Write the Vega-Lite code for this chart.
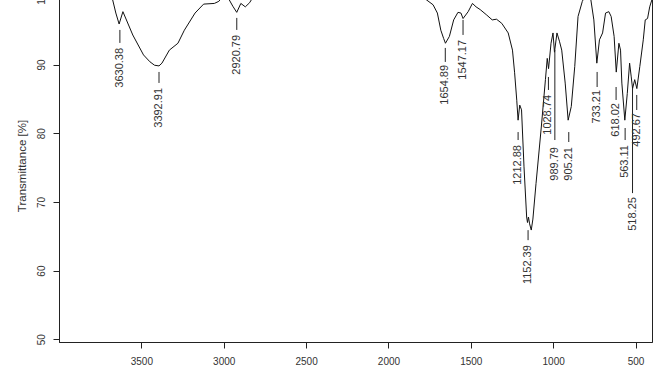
{
  "$schema": "https://vega.github.io/schema/vega-lite/v6.json",
  "width": 593,
  "height": 353,
  "autosize": {"type": "none"},
  "padding": {"left": 59, "top": -11, "right": 20, "bottom": 30},
  "background": "white",
  "config": {
    "view": {"stroke": "#222", "strokeWidth": 1},
    "font": "Liberation Sans",
    "axis": {"grid": false, "domainColor": "#222", "tickColor": "#222", "labelColor": "#333", "titleColor": "#333", "labelFontSize": 10, "titleFontWeight": "normal"}
  },
  "datasets": {
    "spectrum": [
      {"wavenumber": 4000, "transmittance": 101.0},
      {"wavenumber": 3850, "transmittance": 100.8},
      {"wavenumber": 3720, "transmittance": 100.3},
      {"wavenumber": 3690, "transmittance": 99.8},
      {"wavenumber": 3674, "transmittance": 99.4},
      {"wavenumber": 3655, "transmittance": 97.5},
      {"wavenumber": 3635, "transmittance": 95.9},
      {"wavenumber": 3612, "transmittance": 97.7},
      {"wavenumber": 3552, "transmittance": 94.3},
      {"wavenumber": 3487, "transmittance": 91.4},
      {"wavenumber": 3448, "transmittance": 90.4},
      {"wavenumber": 3420, "transmittance": 89.9},
      {"wavenumber": 3393, "transmittance": 89.8},
      {"wavenumber": 3375, "transmittance": 90.2},
      {"wavenumber": 3330, "transmittance": 92.1},
      {"wavenumber": 3278, "transmittance": 93.1},
      {"wavenumber": 3239, "transmittance": 95.0},
      {"wavenumber": 3174, "transmittance": 97.5},
      {"wavenumber": 3122, "transmittance": 98.8},
      {"wavenumber": 3057, "transmittance": 98.9},
      {"wavenumber": 3030, "transmittance": 99.2},
      {"wavenumber": 3010, "transmittance": 99.8},
      {"wavenumber": 2990, "transmittance": 100.1},
      {"wavenumber": 2966, "transmittance": 99.4},
      {"wavenumber": 2945, "transmittance": 98.5},
      {"wavenumber": 2921, "transmittance": 97.6},
      {"wavenumber": 2896, "transmittance": 98.9},
      {"wavenumber": 2869, "transmittance": 98.4},
      {"wavenumber": 2843, "transmittance": 99.0},
      {"wavenumber": 2820, "transmittance": 99.9},
      {"wavenumber": 2700, "transmittance": 100.6},
      {"wavenumber": 2400, "transmittance": 100.8},
      {"wavenumber": 2100, "transmittance": 100.8},
      {"wavenumber": 1900, "transmittance": 100.6},
      {"wavenumber": 1800, "transmittance": 100.0},
      {"wavenumber": 1768, "transmittance": 99.4},
      {"wavenumber": 1729, "transmittance": 98.7},
      {"wavenumber": 1703, "transmittance": 97.5},
      {"wavenumber": 1682, "transmittance": 95.0},
      {"wavenumber": 1665, "transmittance": 93.8},
      {"wavenumber": 1654, "transmittance": 93.1},
      {"wavenumber": 1630, "transmittance": 94.1},
      {"wavenumber": 1604, "transmittance": 96.5},
      {"wavenumber": 1578, "transmittance": 97.6},
      {"wavenumber": 1560, "transmittance": 97.5},
      {"wavenumber": 1547, "transmittance": 96.7},
      {"wavenumber": 1516, "transmittance": 97.7},
      {"wavenumber": 1490, "transmittance": 98.9},
      {"wavenumber": 1468, "transmittance": 98.4},
      {"wavenumber": 1443, "transmittance": 98.0},
      {"wavenumber": 1403, "transmittance": 97.2},
      {"wavenumber": 1370, "transmittance": 96.5},
      {"wavenumber": 1344, "transmittance": 96.6},
      {"wavenumber": 1312, "transmittance": 96.0},
      {"wavenumber": 1273, "transmittance": 94.6},
      {"wavenumber": 1247, "transmittance": 92.1},
      {"wavenumber": 1234, "transmittance": 88.8},
      {"wavenumber": 1221, "transmittance": 84.8},
      {"wavenumber": 1213, "transmittance": 81.9},
      {"wavenumber": 1203, "transmittance": 84.1},
      {"wavenumber": 1192, "transmittance": 83.4},
      {"wavenumber": 1177, "transmittance": 75.1},
      {"wavenumber": 1161, "transmittance": 67.8},
      {"wavenumber": 1156, "transmittance": 67.0},
      {"wavenumber": 1150, "transmittance": 67.8},
      {"wavenumber": 1143, "transmittance": 66.8},
      {"wavenumber": 1133, "transmittance": 65.9},
      {"wavenumber": 1123, "transmittance": 67.5},
      {"wavenumber": 1104, "transmittance": 72.7},
      {"wavenumber": 1072, "transmittance": 80.9},
      {"wavenumber": 1047, "transmittance": 87.8},
      {"wavenumber": 1036, "transmittance": 90.9},
      {"wavenumber": 1028, "transmittance": 89.4},
      {"wavenumber": 1013, "transmittance": 93.1},
      {"wavenumber": 1001, "transmittance": 94.6},
      {"wavenumber": 992, "transmittance": 91.8},
      {"wavenumber": 977, "transmittance": 94.6},
      {"wavenumber": 962, "transmittance": 93.4},
      {"wavenumber": 948, "transmittance": 92.1},
      {"wavenumber": 927, "transmittance": 87.3},
      {"wavenumber": 909, "transmittance": 81.9},
      {"wavenumber": 890, "transmittance": 83.9},
      {"wavenumber": 869, "transmittance": 89.7},
      {"wavenumber": 849, "transmittance": 97.0},
      {"wavenumber": 823, "transmittance": 99.2},
      {"wavenumber": 800, "transmittance": 100.3},
      {"wavenumber": 780, "transmittance": 100.2},
      {"wavenumber": 771, "transmittance": 99.4},
      {"wavenumber": 753, "transmittance": 96.5},
      {"wavenumber": 735, "transmittance": 90.2},
      {"wavenumber": 719, "transmittance": 93.6},
      {"wavenumber": 700, "transmittance": 94.6},
      {"wavenumber": 682, "transmittance": 97.5},
      {"wavenumber": 662, "transmittance": 97.7},
      {"wavenumber": 648, "transmittance": 97.0},
      {"wavenumber": 630, "transmittance": 94.1},
      {"wavenumber": 617, "transmittance": 88.9},
      {"wavenumber": 601, "transmittance": 93.1},
      {"wavenumber": 591, "transmittance": 92.1},
      {"wavenumber": 583, "transmittance": 87.3},
      {"wavenumber": 565, "transmittance": 81.9},
      {"wavenumber": 550, "transmittance": 85.8},
      {"wavenumber": 536, "transmittance": 90.2},
      {"wavenumber": 526, "transmittance": 88.2},
      {"wavenumber": 518, "transmittance": 86.5},
      {"wavenumber": 505, "transmittance": 87.8},
      {"wavenumber": 492, "transmittance": 86.5},
      {"wavenumber": 474, "transmittance": 89.7},
      {"wavenumber": 453, "transmittance": 93.6},
      {"wavenumber": 441, "transmittance": 96.5},
      {"wavenumber": 427, "transmittance": 96.7},
      {"wavenumber": 414, "transmittance": 98.4},
      {"wavenumber": 401, "transmittance": 99.4},
      {"wavenumber": 400, "transmittance": 99.5}
    ],
    "peaks": [
      {"wavenumber": 3630.38, "label": "3630.38", "tick_top": 95.04, "tick_bottom": 93.15, "label_y": 92.42},
      {"wavenumber": 3392.91, "label": "3392.91", "tick_top": 88.92, "tick_bottom": 87.32, "label_y": 86.59},
      {"wavenumber": 2920.79, "label": "2920.79", "tick_top": 96.79, "tick_bottom": 95.04, "label_y": 94.31},
      {"wavenumber": 1654.89, "label": "1654.89", "tick_top": 92.42, "tick_bottom": 90.38, "label_y": 89.94},
      {"wavenumber": 1547.17, "label": "1547.17", "tick_top": 96.5, "tick_bottom": 94.31, "label_y": 93.59},
      {"wavenumber": 1212.88, "label": "1212.88", "tick_top": 80.17, "tick_bottom": 79.01, "label_y": 78.28},
      {"wavenumber": 1152.39, "label": "1152.39", "tick_top": 65.89, "tick_bottom": 64.43, "label_y": 63.7},
      {"wavenumber": 1028.74, "label": "1028.74", "tick_top": 88.19, "tick_bottom": 86.3, "label_y": 85.57},
      {"wavenumber": 989.79, "label": "989.79", "tick_top": 92.13, "tick_bottom": 79.01, "label_y": 77.99},
      {"wavenumber": 905.21, "label": "905.21", "tick_top": 80.17, "tick_bottom": 78.72, "label_y": 77.99},
      {"wavenumber": 733.21, "label": "733.21", "tick_top": 88.92, "tick_bottom": 86.73, "label_y": 86.3},
      {"wavenumber": 618.02, "label": "618.02", "tick_top": 86.73, "tick_bottom": 84.84, "label_y": 84.4},
      {"wavenumber": 563.11, "label": "563.11", "tick_top": 80.76, "tick_bottom": 79.01, "label_y": 78.28},
      {"wavenumber": 518.25, "label": "518.25", "tick_top": 86.59, "tick_bottom": 71.28, "label_y": 70.7},
      {"wavenumber": 492.67, "label": "492.67", "tick_top": 85.57, "tick_bottom": 83.38, "label_y": 82.94}
    ]
  },
  "layer": [
    {
      "data": {"name": "spectrum"},
      "mark": {"type": "line", "color": "#111", "strokeWidth": 1, "clip": true},
      "encoding": {
        "x": {"field": "wavenumber", "type": "quantitative",
              "scale": {"domain": [400, 4000], "reverse": true, "nice": false, "zero": false},
              "axis": {"values": [3500, 3000, 2500, 2000, 1500, 1000, 500], "format": "d", "title": null, "tickSize": 6, "labelPadding": 8, "labelFlush": false}},
        "y": {"field": "transmittance", "type": "quantitative",
              "scale": {"domain": [49.6, 101], "nice": false, "zero": false},
              "axis": {"values": [50, 60, 70, 80, 90, 100], "title": "Transmittance [%]", "titleFontSize": 11.5, "titlePadding": 9, "tickSize": 6, "labelAngle": 270, "labelAlign": "center", "labelBaseline": "bottom", "labelPadding": 7, "labelFlush": false, "labelBound": false}}
      }
    },
    {
      "data": {"name": "peaks"},
      "mark": {"type": "rule", "color": "#222", "strokeWidth": 1},
      "encoding": {
        "x": {"field": "wavenumber", "type": "quantitative"},
        "y": {"field": "tick_top", "type": "quantitative"},
        "y2": {"field": "tick_bottom"}
      }
    },
    {
      "data": {"name": "peaks"},
      "mark": {"type": "text", "angle": 270, "align": "right", "baseline": "middle", "fontSize": 11, "color": "#333"},
      "encoding": {
        "x": {"field": "wavenumber", "type": "quantitative"},
        "y": {"field": "label_y", "type": "quantitative"},
        "text": {"field": "label", "type": "nominal"}
      }
    }
  ]
}
